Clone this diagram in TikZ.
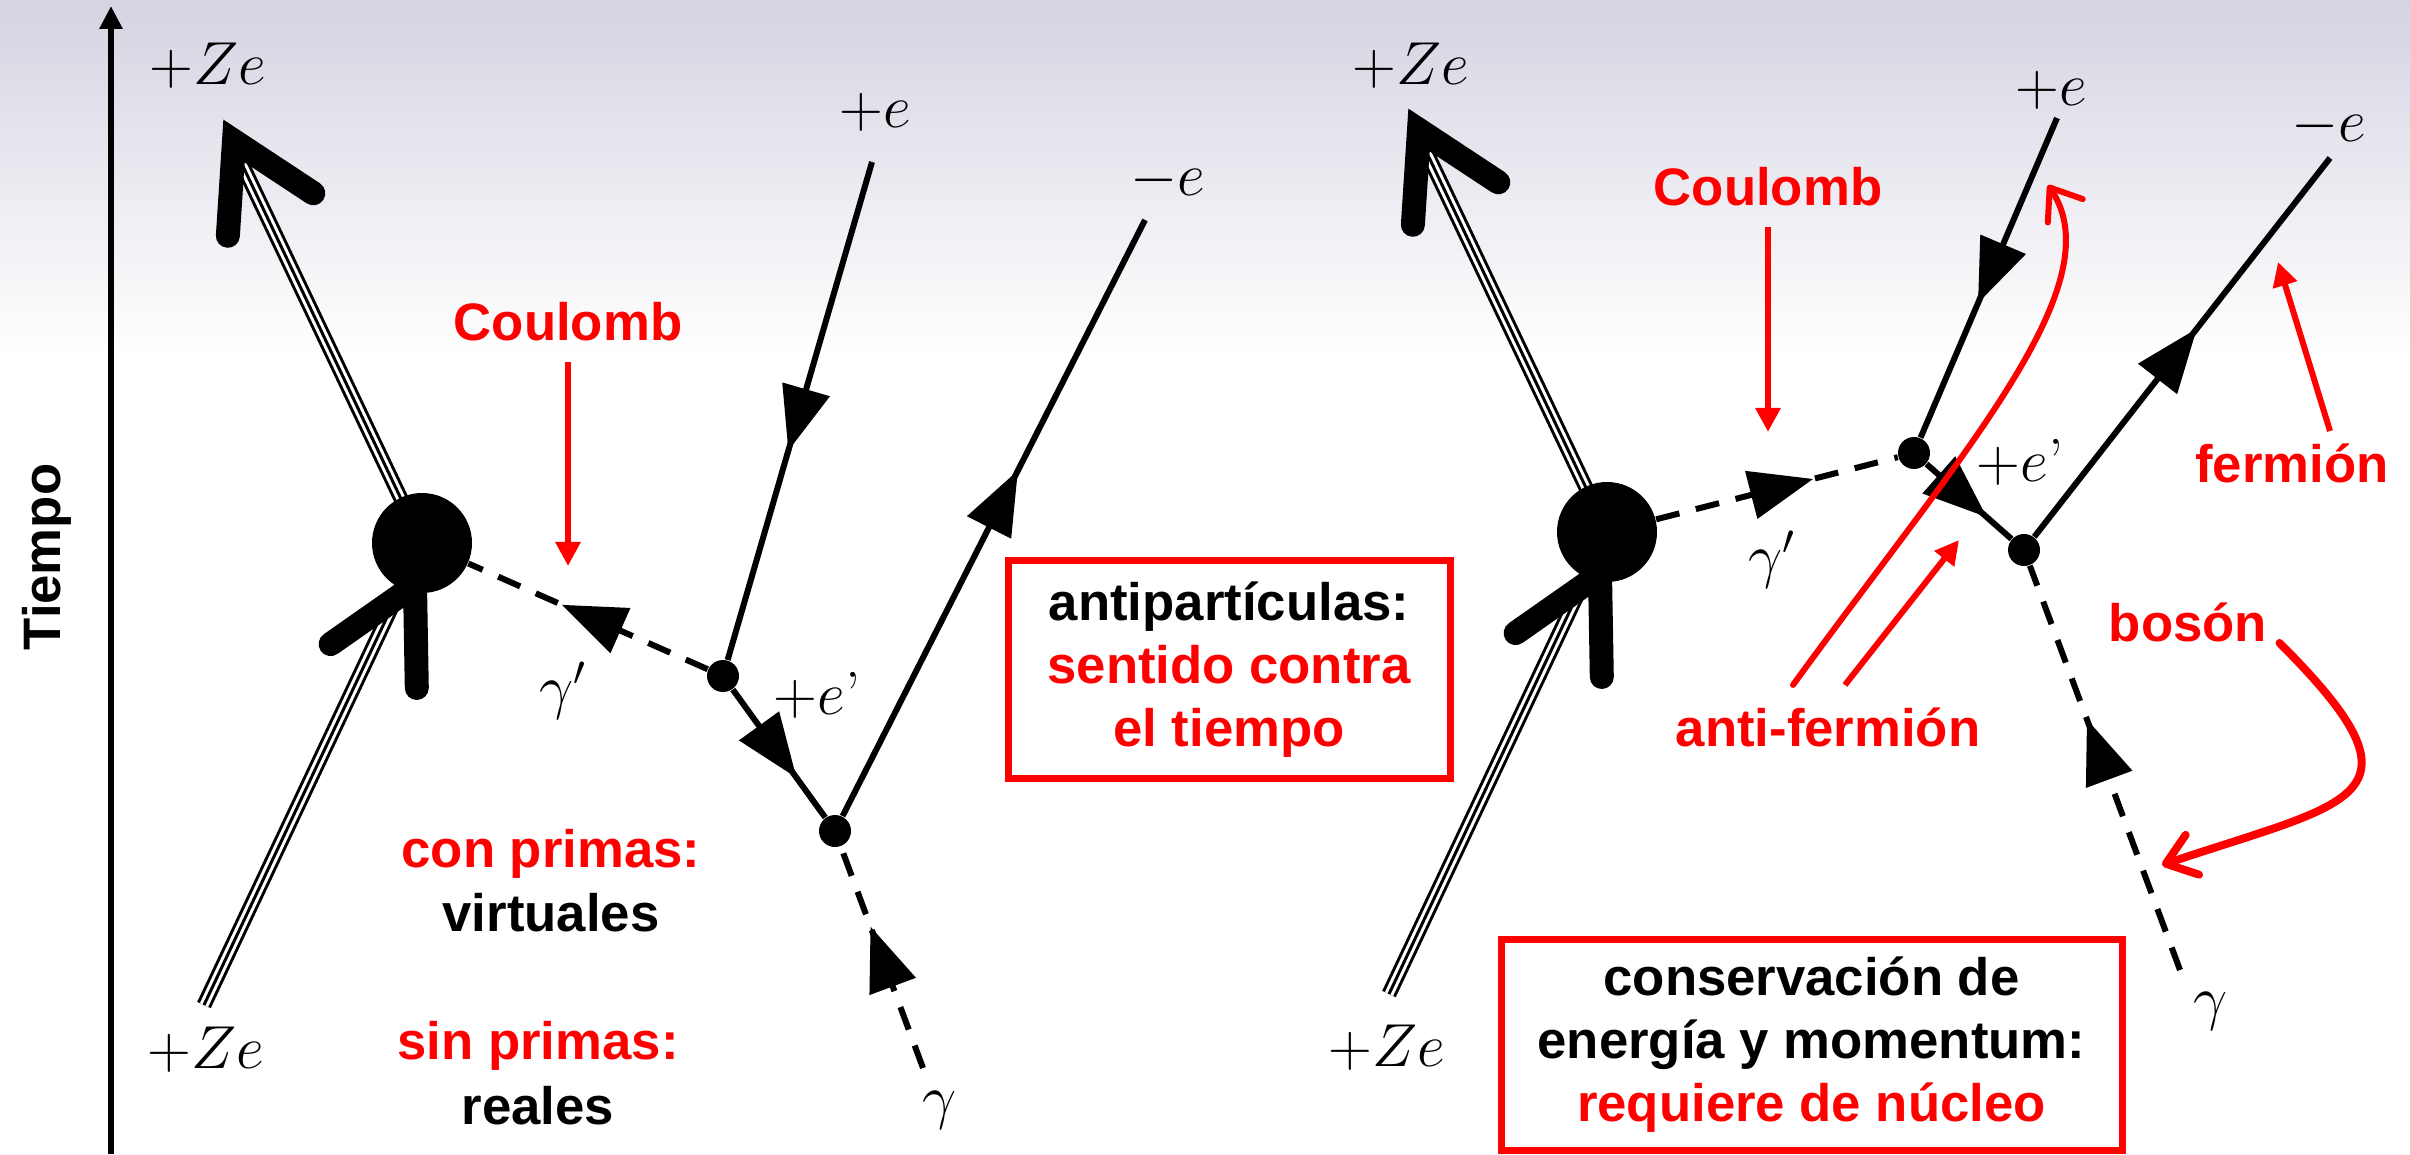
\documentclass[tikz,border=0pt]{standalone}
\usepackage{fontspec}
\newfontfamily\notefont{Liberation Sans}
\usetikzlibrary{arrows.meta}
\usetikzlibrary{decorations.markings}
\usetikzlibrary{calc}

\definecolor{bgtop}{RGB}{212,212,226}

\tikzset{
  fermion/.style={line width=0.06cm},
  boson/.style={line width=0.06cm, dash pattern=on 0.24cm off 0.17cm},
  vtx/.style={circle, fill, inner sep=0pt, minimum size=0.32cm},
  blob/.style={circle, fill, inner sep=0pt, minimum size=1cm},
  triple/.style={line width=0.15cm, postaction={draw, white, line width=0.09cm}, postaction={draw, black, line width=0.03cm}},
  nucarrow/.style={line width=0.24cm, line cap=round, line join=miter},
  midarrow/.style={postaction={decorate}, decoration={markings, mark=at position #1 with {\arrow{Triangle[length=0.64cm,width=0.48cm]}}}},
  charge/.style={font=\fontsize{17.28}{20}\selectfont},
  note/.style={font=\notefont\fontsize{15}{18}\selectfont\bfseries, text=red},
  plain/.style={note, text=black},
  pointer/.style={red, line width=0.06cm, -{Triangle[length=0.24cm,width=0.24cm]}},
  redbend/.style={red, line width=#1, line cap=round, -{Straight Barb[length=0.28cm,width=0.42cm,round]}},
  infobox/.style={draw=red, line width=0.07cm, align=center, inner sep=0pt}
}

\begin{document}
\begin{tikzpicture}
\useasboundingbox (0,0) rectangle (24.1,11.54);
\fill[white] (0,0) rectangle (24.1,11.54);
\shade[top color=bgtop, bottom color=white] (0,8.0) rectangle (24.1,11.54);

% time axis
\coordinate (t0) at (1.11,0);
\coordinate (t1) at (1.11,11.48);
\draw[line width=0.067cm, -{Triangle[length=0.23cm,width=0.22cm]}] (t0) -- (t1);
\node[plain, rotate=90] (tiempo) at (0.47,5.97) {Tiempo};

% the nucleus, same in both diagrams
\foreach \side/\bx/\by in {L/4.22/6.11, R/16.07/6.22} {
  \begin{scope}[shift={(\bx,\by)}]
    \coordinate (nuc\side) at (0,0);
    \coordinate (zin\side) at (-2.18,-4.62);
    \coordinate (zout\side) at (-1.82,3.83);
    \draw[triple] (zin\side) -- (nuc\side);
    \draw[triple] (nuc\side) -- (zout\side);
    \node[blob] (blob\side) at (nuc\side) {};
    \draw[nucarrow] (-1.88,4.02) ++(-93.7:0.95) -- (-1.88,4.02) -- ++(-33.4:0.95);
    \draw[nucarrow] (-0.07,-0.42) ++(215:1.03) -- (-0.07,-0.42) -- ++(271:1.03);
  \end{scope}
}

% left diagram
\node[vtx] (v1L) at (7.23,4.78) {};
\node[vtx] (v2L) at (8.35,3.23) {};
\coordinate (epL) at (8.72,9.92);
\coordinate (emL) at (11.45,9.34);
\coordinate (gL) at (9.23,0.86);
\draw[boson, midarrow=0.61] (v1L) -- (blobL);
\draw[fermion, midarrow=0.58] (epL) -- (v1L);
\draw[fermion, midarrow=0.69] (v1L) -- (v2L);
\draw[fermion, midarrow=0.58] (v2L) -- (emL);
\draw[boson, midarrow=0.64] (gL) -- (v2L);

\node[charge] (ZtopL) at (2.08,10.88) {$+Ze$};
\node[charge] (ZbotL) at (2.06,1.04) {$+Ze$};
\node[charge] (epLbl) at (8.75,10.42) {$+e$};
\node[charge] (emLbl) at (11.68,9.74) {$-e$};
\node[charge] (gpLbl) at (5.63,4.63) {$\gamma'$};
\node[charge] (evLbl) at (8.17,4.59) {$+e$\textquoteright};
\node[charge] (gLbl) at (9.40,0.44) {$\gamma$};

\node[note] (coulL) at (5.68,8.32) {Coulomb};
\coordinate (coulLend) at (5.68,5.88);
\draw[pointer, shorten <=0.08cm] (coulL) -- (coulLend);
\node[note, anchor=base] (conp) at (5.51,2.87) {con primas:};
\node[plain, anchor=base] (virt) at (5.51,2.23) {virtuales};
\node[note, anchor=base] (sinp) at (5.38,0.95) {sin primas:};
\node[plain, anchor=base] (real) at (5.38,0.30) {reales};

\node[plain, infobox, minimum width=4.42cm, minimum height=2.17cm] (antibox) at (12.29,4.845)
  {antipartículas:\\\textcolor{red}{sentido contra}\\\textcolor{red}{el tiempo}};

% right diagram
\node[vtx] (v1R) at (19.14,7.01) {};
\node[vtx] (v2R) at (20.24,6.04) {};
\coordinate (epR) at (20.57,10.36);
\coordinate (emR) at (23.30,9.96);
\coordinate (gR) at (21.80,1.84);
\draw[boson, midarrow=0.65] (blobR) -- (v1R);
\draw[fermion, midarrow=0.58] (epR) -- (v1R);
\draw[fermion, midarrow=0.71] (v1R) -- (v2R);
\draw[fermion, midarrow=0.55] (v2R) -- (emR);
\draw[boson, midarrow=0.62] (gR) -- (v2R);

\node[charge] (ZtopR) at (14.11,10.88) {$+Ze$};
\node[charge] (ZbotR) at (13.87,1.06) {$+Ze$};
\node[charge] (epRlbl) at (20.51,10.64) {$+e$};
\node[charge] (emRlbl) at (23.29,10.28) {$-e$};
\node[charge] (gpRlbl) at (17.72,5.94) {$\gamma'$};
\node[charge] (evRlbl) at (20.20,6.92) {$+e$\textquoteright};
\node[charge] (gRlbl) at (22.11,1.43) {$\gamma$};

\node[note] (coulR) at (17.68,9.67) {Coulomb};
\coordinate (coulRend) at (17.68,7.22);
\draw[pointer, shorten <=0.08cm] (coulR) -- (coulRend);

\node[note] (ferm) at (22.92,6.91) {fermión};
\coordinate (fermend) at (22.78,8.92);
\draw[pointer] ([xshift=0.38cm]ferm.north) -- (fermend);

\node[note, anchor=base] (bos) at (21.88,5.12) {bosón};
\coordinate (bosend) at (21.62,2.89);
\draw[redbend=0.08cm] ([yshift=-0.2cm]bos.east) .. controls (24.36,3.55) and (23.52,3.53) .. (bosend);

\node[note, anchor=base] (antif) at (18.28,4.08) {anti-fermión};
\coordinate (afcurveend) at (20.48,9.69);
\coordinate (afshortend) at (19.59,6.14);
\draw[redbend=0.06cm] ([shift={(-0.35,0.1)}]antif.north) .. controls (19.60,6.99) and (21.15,8.69) .. (afcurveend);
\draw[pointer] ([shift={(0.17,0.1)}]antif.north) -- (afshortend);

\node[plain, infobox, minimum width=6.21cm, minimum height=2.11cm] (consbox) at (18.115,1.095)
  {conservación de\\energía y momentum:\\\textcolor{red}{requiere de núcleo}};
\end{tikzpicture}
\end{document}
